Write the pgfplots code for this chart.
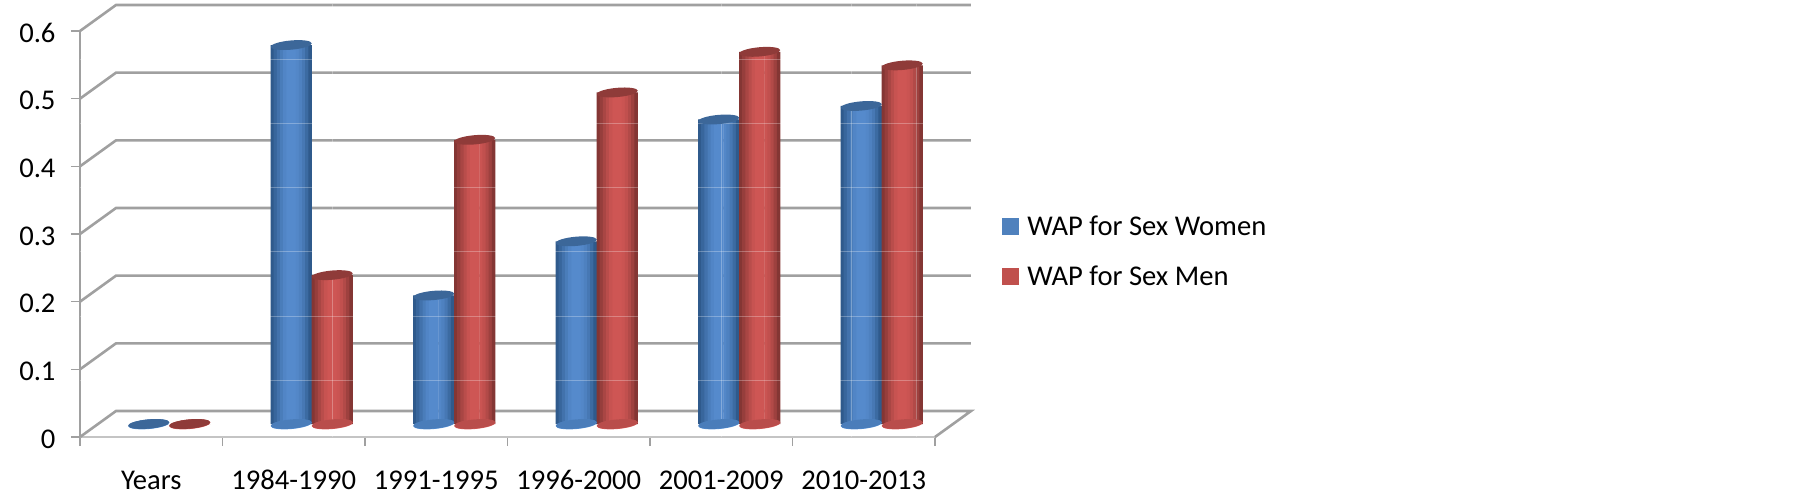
\documentclass[border=0pt]{standalone}
\usepackage{fontspec}
\setmainfont{Carlito}
\usepackage{pgfplots}
\usepackage{pgfplotstable}
\pgfplotsset{compat=1.18}

\definecolor{gridgray}{HTML}{A0A0A0}
\definecolor{floorgray}{HTML}{C4C4C4}
\definecolor{bluedark}{HTML}{2F5A8C}
\definecolor{bluemid}{HTML}{558ACC}
\definecolor{bluecap}{HTML}{3C6799}
\definecolor{bluelip}{HTML}{5A96DC}
\definecolor{reddark}{HTML}{843634}
\definecolor{redmid}{HTML}{CE5654}
\definecolor{redcap}{HTML}{8F3B39}
\definecolor{redlip}{HTML}{E0605E}
\definecolor{legblue}{HTML}{4F81BD}
\definecolor{legred}{HTML}{C0504D}

\pgfplotstableread{
x    women men  zero
0.5  0     0    0
1.5  0.56  0.22 0
2.5  0.19  0.42 0
3.5  0.27  0.49 0
4.5  0.45  0.55 0
5.5  0.47  0.53 0
}\bars

% tilted disc for the cylinder ends
\pgfdeclareplotmark{disc}{%
  \pgfpathellipse{\pgfpointorigin}{\pgfqpoint{20.5pt}{1.8pt}}{\pgfqpoint{-0.4pt}{4.6pt}}%
  \pgfusepathqfill}

\pgfplotsset{
  cylshift/.style={xshift=18pt,yshift=13pt},
  wall/.style={gridgray,line width=2.6pt,forget plot},
  sheen/.style={white,opacity=0.28,line width=1pt,forget plot},
}

% one vertical strip of a cylinder: offset, colour, column
\newcommand{\band}[3]{\addplot[ybar,cylshift,bar width=3.6pt,bar shift=#1pt,fill=#2,draw=none,forget plot] table[x=x,y=#3] {\bars};}
% whole cylinder series: column, dark, mid, cap, lip, offset
\newcommand{\cyl}[6]{%
  \addplot[only marks,cylshift,xshift=#6pt,yshift=-0.4pt,mark=disc,mark options={fill=#5,draw=none},forget plot] table[x=x,y=zero] {\bars};
  \addplot[only marks,cylshift,xshift=#6pt,mark=disc,mark options={fill=#3!72!#2,draw=none},forget plot] table[x=x,y=zero] {\bars};
  \band{#6-18.9}{#2}{#1}
  \band{#6-15.75}{#3!25!#2}{#1}
  \band{#6-12.6}{#3!50!#2}{#1}
  \band{#6-9.45}{#3!72!#2}{#1}
  \band{#6-6.3}{#3!90!#2}{#1}
  \band{#6-3.15}{#3}{#1}
  \band{#6}{#3}{#1}
  \band{#6+3.15}{#3}{#1}
  \band{#6+6.3}{#3!94!#2}{#1}
  \band{#6+9.45}{#3!82!#2}{#1}
  \band{#6+12.6}{#3!62!#2}{#1}
  \band{#6+15.75}{#3!35!#2}{#1}
  \band{#6+18.9}{#2}{#1}
  \addplot[only marks,cylshift,xshift=#6pt,mark=disc,mark options={fill=#4,draw=none},forget plot] table[x=x,y=#1] {\bars};
}

\begin{document}
\begin{tikzpicture}[x=1pt,y=1pt]
\path[use as bounding box] (0,0) rectangle (1805,496);
\begin{axis}[
    at={(80pt,59pt)},
    anchor=south west,
    scale only axis,
    width=855pt,
    height=406pt,
    xmin=0, xmax=6,
    ymin=0, ymax=0.6,
    clip=false,
    axis x line*=bottom,
    axis y line*=left,
    x axis line style={floorgray,line width=2pt,-},
    y axis line style={gridgray,line width=2pt,-},
    tick style={gridgray,line width=1.6pt},
    tickwidth=9pt,
    tick align=outside,
    xtick={0,...,6},
    xticklabels={Years,1984-1990,1991-1995,1996-2000,2001-2009,2010-2013},
    x tick label as interval,
    x tick label style={yshift=-21pt,text height=19pt,text depth=0pt},
    ytick={0,0.1,...,0.6},
    yticklabel style={/pgf/number format/fixed},
    /pgf/number format/assume math mode=true,
    tick label style={font=\fontsize{28.6}{32}\selectfont,black},
    y tick label style={xshift=-12pt,yshift=-2pt},
    legend style={
      at={(1.0784,0.4569)},anchor=west,draw=none,fill=none,inner sep=0pt,outer sep=0pt,
      font=\fontsize{28.6}{32}\selectfont,
      row sep=25pt,
      /tikz/every even column/.append style={column sep=0pt},
    },
    legend cell align=left,
]
% back wall and floor
\addplot[wall] coordinates {(0,0.1)(0.2526,0.1384)(6.2526,0.1384)};
\addplot[wall] coordinates {(0,0.2)(0.2526,0.2384)(6.2526,0.2384)};
\addplot[wall] coordinates {(0,0.3)(0.2526,0.3384)(6.2526,0.3384)};
\addplot[wall] coordinates {(0,0.4)(0.2526,0.4384)(6.2526,0.4384)};
\addplot[wall] coordinates {(0,0.5)(0.2526,0.5384)(6.2526,0.5384)};
\addplot[wall] coordinates {(0,0.6)(0.2526,0.6384)(6.2526,0.6384)};
\addplot[wall] coordinates {(0,0)(0.2526,0.0384)(6.2526,0.0384)(6,0)};

\cyl{women}{bluedark}{bluemid}{bluecap}{bluelip}{-20.5}
\cyl{men}{reddark}{redmid}{redcap}{redlip}{20.5}

% faint white raster that lies over the whole picture
\addplot[sheen] coordinates {(0,0.5575)(6.3,0.5575)};
\addplot[sheen] coordinates {(0,0.4627)(6.3,0.4627)};
\addplot[sheen] coordinates {(0,0.3681)(6.3,0.3681)};
\addplot[sheen] coordinates {(0,0.2735)(6.3,0.2735)};
\addplot[sheen] coordinates {(0,0.1788)(6.3,0.1788)};
\addplot[sheen] coordinates {(0,0.0842)(6.3,0.0842)};
\addplot[sheen] coordinates {(1.775,0)(1.775,0.64)};
\addplot[sheen] coordinates {(4.5,0)(4.5,0.64)};
\addplot[sheen] coordinates {(5.411,0)(5.411,0.64)};
\addplot[sheen] coordinates {(5.867,0)(5.867,0.64)};

\addlegendimage{legend image code/.code={\fill[legblue] (0pt,-8pt) rectangle (16pt,8pt);}}
\addlegendentry{\hspace{7pt}WAP for Sex Women}
\addlegendimage{legend image code/.code={\fill[legred] (0pt,-8pt) rectangle (16pt,8pt);}}
\addlegendentry{\hspace{7pt}WAP for Sex Men}
\end{axis}
\end{tikzpicture}
\end{document}
